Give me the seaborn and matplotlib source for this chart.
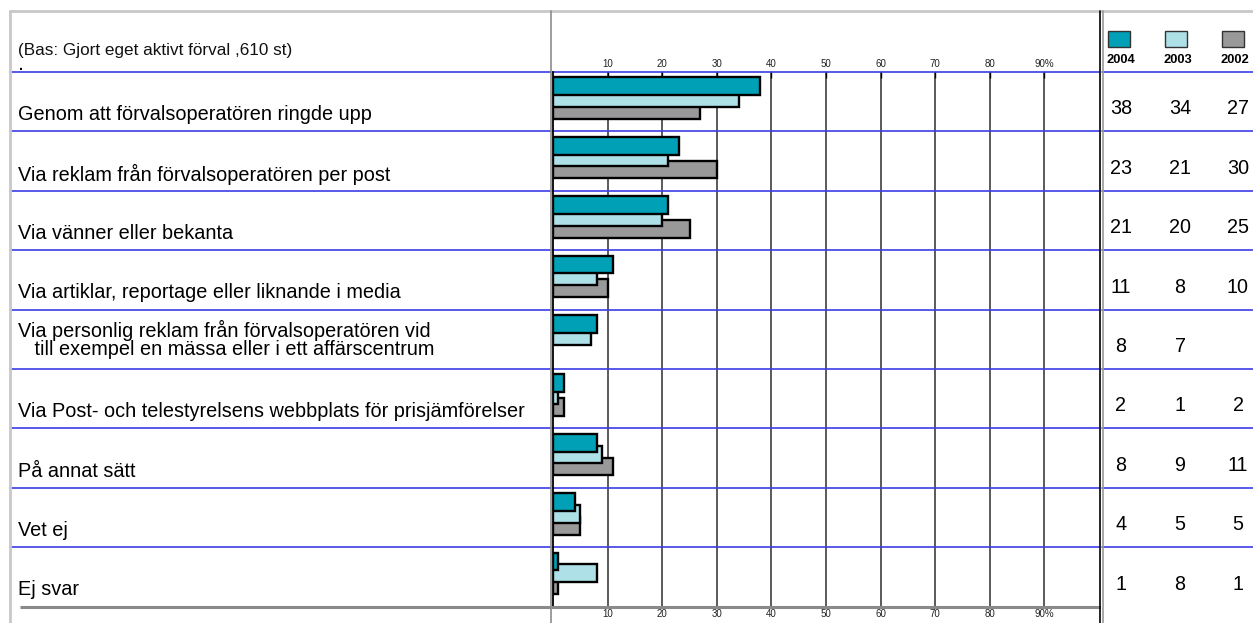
import numpy as np
import pandas as pd
import matplotlib
matplotlib.use("Agg")
import matplotlib.pyplot as plt
from matplotlib.lines import Line2D
from matplotlib.patches import Rectangle
import seaborn as sns

# ---- data -------------------------------------------------------------
categories = [
    "Genom att förvalsoperatören ringde upp",
    "Via reklam från förvalsoperatören per post",
    "Via vänner eller bekanta",
    "Via artiklar, reportage eller liknande i media",
    "Via personlig reklam från förvalsoperatören vid\n   till exempel en mässa eller i ett affärscentrum",
    "Via Post- och telestyrelsens webbplats för prisjämförelser",
    "På annat sätt",
    "Vet ej",
    "Ej svar",
]
years = ["2004", "2003", "2002"]
values_2004 = [38, 23, 21, 11, 8, 2, 8, 4, 1]
values_2003 = [34, 21, 20, 8, 7, 1, 9, 5, 8]
values_2002 = [27, 30, 25, 10, np.nan, 2, 11, 5, 1]
tick_values = [10, 20, 30, 40, 50, 60, 70, 80, 90]
tick_labels = ["10", "20", "30", "40", "50", "60", "70", "80", "90%"]
header = "(Bas: Gjort eget aktivt förval ,610 st)"

colors = {"2004": "#00a0b6", "2003": "#aee0e8", "2002": "#999999"}
BLUE = "#3c3ce8"

series = {"2004": values_2004, "2003": values_2003, "2002": values_2002}
df = pd.DataFrame(
    [(c, y, series[y][i]) for y in years for i, c in enumerate(categories)],
    columns=["kategori", "år", "andel"],
)

# ---- figure & layout --------------------------------------------------
sns.set_theme(style="white")
plt.rcParams["font.family"] = ["Liberation Sans", "DejaVu Sans"]

W, H = 1253, 623
fig = plt.figure(figsize=(W / 100, H / 100), dpi=100)
fig.patch.set_facecolor("white")


def fx(x):
    return x / W


def fy(y):
    return 1 - y / H


ROW_TOP, ROW_BOT = 72, 606.6
n = len(categories)
ylim = (n - 0.5, -0.5)

ax_lab = fig.add_axes([fx(10), fy(ROW_BOT), (551 - 10) / W, (ROW_BOT - ROW_TOP) / H])
ax_bar = fig.add_axes([fx(553), fy(ROW_BOT), (1099 - 553) / W, (ROW_BOT - ROW_TOP) / H])
ax_num = fig.add_axes([fx(1102), fy(ROW_BOT), (1253 - 1102) / W, (ROW_BOT - ROW_TOP) / H])

# ---- bars -------------------------------------------------------------
sns.barplot(
    data=df, y="kategori", x="andel", hue="år", hue_order=years,
    palette=colors, saturation=1, orient="h", dodge=True, width=0.6,
    errorbar=None, edgecolor="black", linewidth=1.7, legend=False, ax=ax_bar,
)
# overlapping, slightly raised bars with the newest year in front
for k, cont in enumerate(ax_bar.containers):
    for p in cont.patches:
        c = p.get_y() + p.get_height() / 2 - 0.06
        h = 0.30
        p.set_y(c - h / 2)
        p.set_height(h)
        p.set_zorder(5 - k)
        if not np.isfinite(p.get_width()):
            p.set_visible(False)

ax_bar.set_xlim(0, 100)
ax_bar.set_ylim(*ylim)
ax_bar.set_xlabel("")
ax_bar.set_ylabel("")
ax_bar.set_yticks([])
ax_bar.set_xticks(tick_values)
ax_bar.set_xticklabels(tick_labels)
ax_bar.tick_params(axis="x", top=True, bottom=False, labeltop=True, labelbottom=True,
                   direction="in", length=4, width=1, color="black",
                   labelsize=7, pad=2, labelcolor="#222222")
for xv in tick_values:
    ax_bar.axvline(xv, color="#4d4d4d", lw=1.3, zorder=0.5)
for s in ("top", "right"):
    ax_bar.spines[s].set_visible(False)
ax_bar.spines["left"].set_color("black")
ax_bar.spines["left"].set_linewidth(1.3)
ax_bar.spines["bottom"].set_color("#8a8a8a")
ax_bar.spines["bottom"].set_linewidth(2.2)
ax_bar.set_facecolor("none")

# ---- row labels -------------------------------------------------------
ax_lab.set_xlim(0, 1)
ax_lab.set_ylim(*ylim)
ax_lab.axis("off")
for i, lab in enumerate(categories):
    multi = "\n" in lab
    ax_lab.text(8 / 541, i + (0.0 if multi else 0.22), lab, ha="left", va="center",
                fontsize=14.3, color="black", linespacing=0.92)
ax_lab.plot([10 / 541, 1], [n - 0.5, n - 0.5], color="#8a8a8a", lw=2.2,
            clip_on=False, solid_capstyle="butt")

# ---- value columns ----------------------------------------------------
ax_num.set_xlim(1102, 1253)
ax_num.set_ylim(*ylim)
ax_num.axis("off")
col_x = [1121, 1180, 1238]
for j, y in enumerate(years):
    for i, v in enumerate(series[y]):
        if np.isfinite(v):
            ax_num.text(col_x[j], i + 0.12, f"{v:.0f}", ha="center", va="center",
                        fontsize=14.2, color="black")

# ---- row separators ---------------------------------------------------
for ax in (ax_lab, ax_bar, ax_num):
    for b in range(n):
        ax.axhline(b - 0.5, color=BLUE, lw=1.2, zorder=0.6, clip_on=False)

# ---- frame lines ------------------------------------------------------
def fig_line(x0, y0, x1, y1, **kw):
    fig.add_artist(Line2D([fx(x0), fx(x1)], [fy(y0), fy(y1)],
                          transform=fig.transFigure, **kw))


fig_line(10, 11, 1253, 11, color="#c8c8c8", lw=2)
fig_line(10, 11, 10, 623, color="#c8c8c8", lw=2)
fig_line(551, 11, 551, 623, color="#8c8c8c", lw=1.2)
fig_line(1100, 11, 1100, 623, color="black", lw=1.2)
fig_line(1102.5, 11, 1102.5, 623, color="#9a9a9a", lw=1.2)

# ---- header & legend --------------------------------------------------
fig.text(fx(18), fy(50), header, ha="left", va="center", fontsize=12.3, color="#111111")
fig.text(fx(19), fy(66), ".", ha="left", va="center", fontsize=10, color="black",
         fontweight="bold")

legend_x = [1119, 1176, 1233]
for j, y in enumerate(years):
    fig.add_artist(Rectangle((fx(legend_x[j] - 11), fy(47)), 22 / W, 16 / H,
                             transform=fig.transFigure, facecolor=colors[y],
                             edgecolor="#333333", lw=1))
    fig.text(fx(legend_x[j] + 2), fy(60), y, ha="center", va="center", fontsize=9.3,
             fontweight="bold", color="black")

fig.savefig("out.png", dpi=100, facecolor="white")
